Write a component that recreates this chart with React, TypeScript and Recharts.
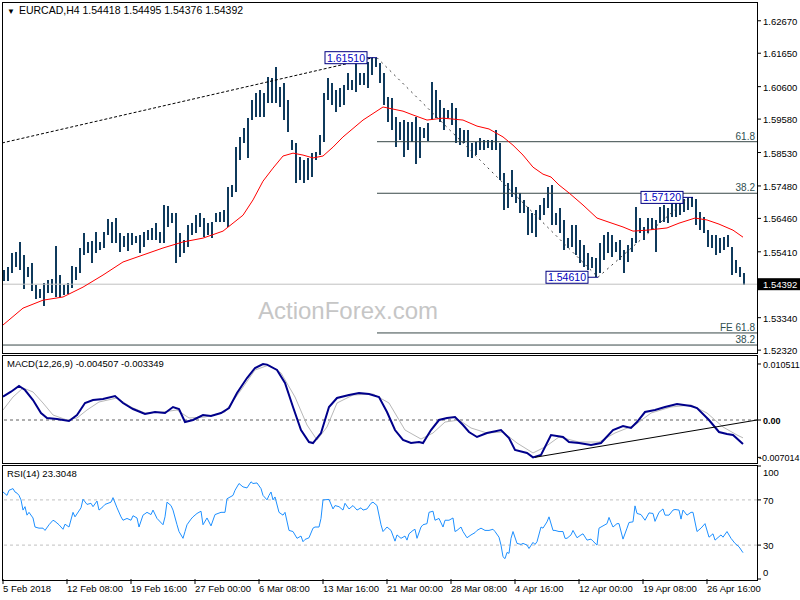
import React from 'react';
import { ComposedChart, Bar, Line, XAxis, YAxis, ReferenceLine, ReferenceDot } from 'recharts';

const FONT = '"Liberation Sans", Arial, sans-serif';

const symbolTitle = 'EURCAD,H4  1.54418 1.54495 1.54376 1.54392';
const macdTitle = 'MACD(12,26,9) -0.004507 -0.003349';
const rsiTitle = 'RSI(14) 23.3048';
const watermark = 'ActionForex.com';

// H4 bars, read two bars per slot (slot j sits at bar index 2j + 0.5)
const barHigh = [
  1.5484, 1.5493, 1.5537, 1.554, 1.5572, 1.5531, 1.5493, 1.5506, 1.5437, 1.5424,
  1.5443, 1.5452, 1.5455, 1.5559, 1.5468, 1.5437, 1.5443, 1.5496, 1.5493, 1.5553,
  1.56, 1.5572, 1.5575, 1.5603, 1.5572, 1.5603, 1.5644, 1.5634, 1.5647, 1.56,
  1.5591, 1.56, 1.56, 1.5591, 1.5594, 1.5603, 1.5609, 1.5616, 1.5631, 1.5603,
  1.5688, 1.5685, 1.5663, 1.5663, 1.56, 1.5578, 1.5625, 1.5631, 1.5656, 1.5663,
  1.5647, 1.5631, 1.5634, 1.5663, 1.5666, 1.5672, 1.5744, 1.5751, 1.587, 1.5902,
  1.593, 1.5961, 1.6018, 1.604, 1.6049, 1.604, 1.609, 1.6087, 1.6122, 1.6059,
  1.6071, 1.6018, 1.5892, 1.5883, 1.5839, 1.5829, 1.5836, 1.5851, 1.5854, 1.5908,
  1.604, 1.6087, 1.6071, 1.6049, 1.6056, 1.6065, 1.6103, 1.6081, 1.6144, 1.6103,
  1.6103, 1.6137, 1.6149, 1.6151, 1.6134, 1.6103, 1.6027, 1.6024, 1.5964, 1.5949,
  1.5955, 1.5949, 1.5949, 1.5964, 1.5933, 1.593, 1.5946, 1.6074, 1.6049, 1.6018,
  1.5993, 1.5986, 1.6008, 1.5993, 1.593, 1.5924, 1.5924, 1.5883, 1.5886, 1.5898,
  1.5892, 1.5892, 1.5892, 1.5924, 1.5883, 1.5788, 1.5757, 1.5798, 1.5744, 1.5726,
  1.5704, 1.5682, 1.5663, 1.5672, 1.5688, 1.571, 1.5744, 1.5751, 1.5663, 1.5678,
  1.5641, 1.5584, 1.5625, 1.5625, 1.5578, 1.5562, 1.5537, 1.5525, 1.5521, 1.5569,
  1.5594, 1.5603, 1.5594, 1.5572, 1.5578, 1.5547, 1.5562, 1.5584, 1.5682, 1.5647,
  1.5619, 1.5647, 1.5647, 1.5641, 1.5682, 1.5688, 1.5678, 1.5704, 1.5704, 1.5706,
  1.5708, 1.571, 1.5712, 1.5708, 1.5666, 1.565, 1.5609, 1.5594, 1.5594, 1.5584,
  1.5587, 1.5594, 1.5556, 1.5515, 1.5493, 1.5474,
];
const barLow = [
  1.5449, 1.5449, 1.5474, 1.5493, 1.5484, 1.5424, 1.5462, 1.5418, 1.5393, 1.5396,
  1.5371, 1.5411, 1.5411, 1.5399, 1.5399, 1.5405, 1.5408, 1.5427, 1.5452, 1.5474,
  1.5531, 1.5537, 1.5506, 1.5537, 1.5547, 1.5553, 1.5594, 1.5569, 1.5569, 1.554,
  1.5556, 1.5543, 1.5562, 1.5569, 1.5537, 1.5556, 1.5578, 1.5578, 1.5578, 1.5569,
  1.5569, 1.5619, 1.5631, 1.5506, 1.5525, 1.5537, 1.5556, 1.5594, 1.56, 1.5619,
  1.5587, 1.5594, 1.5584, 1.5634, 1.5634, 1.5634, 1.5619, 1.5713, 1.5729, 1.5829,
  1.5883, 1.5836, 1.5955, 1.5964, 1.5964, 1.5964, 1.6008, 1.6008, 1.6008, 1.5996,
  1.5955, 1.5917, 1.5861, 1.5757, 1.5766, 1.5757, 1.5766, 1.5776, 1.5829, 1.5845,
  1.5886, 1.6018, 1.6002, 1.598, 1.5996, 1.6002, 1.6049, 1.6049, 1.6043, 1.6065,
  1.6065, 1.6056, 1.6096, 1.6122, 1.6071, 1.6002, 1.5949, 1.5924, 1.587, 1.5892,
  1.5839, 1.5861, 1.5886, 1.5817, 1.5836, 1.5898, 1.5889, 1.5955, 1.5961, 1.5949,
  1.5924, 1.5961, 1.5939, 1.5883, 1.5876, 1.5883, 1.5839, 1.5836, 1.5845, 1.5861,
  1.5861, 1.5867, 1.5861, 1.5861, 1.5766, 1.5672, 1.5678, 1.5713, 1.5694, 1.5663,
  1.5663, 1.5594, 1.56, 1.5587, 1.5641, 1.5656, 1.5678, 1.5625, 1.5625, 1.56,
  1.5547, 1.5553, 1.5556, 1.5531, 1.5506, 1.5493, 1.5484, 1.549, 1.5461, 1.5474,
  1.5515, 1.5537, 1.5525, 1.554, 1.5515, 1.5474, 1.5509, 1.554, 1.5569, 1.56,
  1.5578, 1.56, 1.5609, 1.554, 1.5631, 1.5634, 1.5631, 1.565, 1.565, 1.5656,
  1.5666, 1.5672, 1.5682, 1.5625, 1.5609, 1.56, 1.5556, 1.5553, 1.5531, 1.5537,
  1.5547, 1.5556, 1.5468, 1.5474, 1.5462, 1.5438,
];

const lastClose = 1.54392;
const priceTicks = [1.5232, 1.5334, 1.54392, 1.5541, 1.5646, 1.5748, 1.5853, 1.5958, 1.606, 1.6165, 1.6267];

const timeTicks = [0, 32, 64, 96, 128, 160, 192, 224, 256, 288, 320, 352];
const timeLabels = [
  '5 Feb 2018', '12 Feb 08:00', '19 Feb 16:00', '27 Feb 00:00', '6 Mar 08:00', '13 Mar 16:00',
  '21 Mar 00:00', '28 Mar 08:00', '4 Apr 16:00', '12 Apr 00:00', '19 Apr 08:00', '26 Apr 16:00',
];

// red moving average: [bar index, price]
const maPoints: [number, number][] = [
  [0, 1.5311], [10, 1.5364], [20, 1.5389], [30, 1.5399], [40, 1.543], [50, 1.5468],
  [60, 1.5509], [70, 1.5531], [80, 1.5553], [90, 1.5572], [100, 1.5584], [110, 1.5606],
  [120, 1.5656], [125, 1.5704], [130, 1.5763], [135, 1.5804], [140, 1.5842], [145, 1.5851],
  [150, 1.5845], [155, 1.5836], [160, 1.5842], [165, 1.587], [170, 1.5902], [180, 1.5955],
  [190, 1.5996], [200, 1.5983], [205, 1.5971], [212, 1.5955], [220, 1.5961], [230, 1.5955],
  [237, 1.5936], [243, 1.5927], [250, 1.5902], [255, 1.5876], [260, 1.5845], [265, 1.5807],
  [270, 1.5785], [274, 1.5776], [278, 1.5751], [283, 1.5726], [290, 1.5688], [297, 1.5647],
  [303, 1.5634], [310, 1.5619], [315, 1.5606], [322, 1.5609], [332, 1.5616], [338, 1.5631],
  [346, 1.5647], [352, 1.5641], [358, 1.5628], [365, 1.5609], [370, 1.5587],
];

const macdPoints: [number, number][] = [
  [0, 0.00437], [4, 0.00531], [8, 0.00638], [11, 0.00563], [15, 0.00375], [19, 0.00131],
  [22, 0.00038], [27, 0.00019], [33, -0.00019], [37, 0.00094], [41, 0.00319], [45, 0.00375],
  [50, 0.00394], [56, 0.0045], [60, 0.00319], [65, 0.00206], [71, 0.00113], [76, 0.0015],
  [81, 0.00131], [85, 0.00244], [88, 0.00206], [91, -0.00038], [95, 0.0], [100, 0.00094],
  [104, 0.00075], [109, 0.00131], [113, 0.00225], [117, 0.00507], [122, 0.00788], [126, 0.00976],
  [130, 0.01051], [132, 0.0104], [137, 0.00939], [141, 0.00694], [145, 0.00244], [149, -0.00188],
  [153, -0.00413], [155, -0.00432], [159, -0.00244], [163, 0.00244], [167, 0.00413], [173, 0.00469],
  [178, 0.00507], [183, 0.00488], [188, 0.00432], [192, 0.0015], [196, -0.00188], [200, -0.00375],
  [204, -0.00432], [208, -0.00413], [210, -0.00432], [214, -0.00188], [218, 0.0], [222, 0.00038],
  [226, 0.00056], [230, -0.00094], [233, -0.00225], [237, -0.00319], [242, -0.00244], [249, -0.00188],
  [253, -0.00338], [256, -0.00563], [262, -0.00619], [265, -0.00701], [269, -0.00657], [274, -0.00282],
  [280, -0.00319], [283, -0.00413], [288, -0.00432], [294, -0.00469], [299, -0.00432], [305, -0.00188],
  [310, -0.00113], [314, -0.0015], [317, -0.00038], [321, 0.0015], [326, 0.00188], [331, 0.00244],
  [337, 0.003], [344, 0.00263], [347, 0.00225], [353, 0.0], [358, -0.00225], [362, -0.00263],
  [365, -0.00282], [370, -0.004507],
];

const signalPoints: [number, number][] = [
  [0, 0.00188], [5, 0.00432], [10, 0.00601], [15, 0.00526], [20, 0.00319], [25, 0.00094],
  [32, 0.0], [37, 0.00038], [42, 0.00188], [48, 0.00338], [57, 0.00413], [64, 0.00244],
  [71, 0.00131], [80, 0.0015], [87, 0.00188], [93, 0.00038], [101, 0.00056], [111, 0.0015],
  [119, 0.00563], [126, 0.00939], [133, 0.01032], [139, 0.00882], [146, 0.00432], [152, -0.00094],
  [157, -0.00375], [162, -0.00131], [167, 0.00319], [175, 0.00469], [185, 0.00488], [193, 0.00319],
  [201, -0.00188], [209, -0.00357], [215, -0.00244], [221, -0.00038], [228, 0.0], [234, -0.0015],
  [242, -0.00244], [250, -0.00225], [257, -0.00432], [265, -0.00619], [271, -0.00507], [278, -0.00319],
  [288, -0.00413], [298, -0.00413], [306, -0.00244], [316, -0.00094], [324, 0.00131], [334, 0.00244],
  [344, 0.00282], [352, 0.00131], [360, -0.00131], [367, -0.00282], [370, -0.003349],
];

const macdTrend: [number, number][] = [[266, -0.007], [377, 0.0]];

const rsiPoints: [number, number][] = [
  [0, 77], [2, 74], [3, 78.5], [5, 80], [6, 77], [7, 76], [8, 74], [9, 70], [10, 61], [11, 64],
  [12, 56.5], [13, 59], [15, 54], [16, 46], [18, 45], [20, 45], [21, 43], [23, 48], [25, 52], [26, 51],
  [28, 48], [30, 44], [31, 48.5], [33, 46], [35, 59], [36, 55], [39, 63], [40, 70.6], [42, 66], [44, 67],
  [45, 64], [47, 69], [48, 61], [50, 64], [51, 66], [54, 68], [55, 72], [57, 63], [59, 55], [60, 52],
  [62, 53.6], [64, 52], [65, 56], [67, 54], [68, 46], [70, 56.5], [72, 59], [74, 57], [75, 61], [77, 53.6],
  [80, 48], [81, 55], [82, 68], [84, 65], [85, 61], [87, 48], [88, 42], [90, 36], [91, 42], [92, 48],
  [94, 53], [95, 55], [97, 58], [99, 60], [100, 48], [102, 54], [104, 47], [106, 57], [109, 59], [111, 59],
  [112, 71], [115, 74], [116, 78.5], [118, 84.5], [120, 81.5], [122, 80.6], [124, 86], [125, 84.5], [127, 85], [129, 80],
  [130, 74], [132, 70], [133, 74], [134, 77], [135, 70], [136, 72.6], [138, 59], [140, 56.5], [141, 59], [143, 43],
  [145, 42], [147, 36], [149, 38], [150, 33], [151, 35], [153, 36.5], [155, 45], [156, 46], [158, 46], [159, 53.6],
  [160, 70], [163, 70.4], [165, 62], [166, 65], [168, 64], [170, 61], [171, 67], [173, 62], [175, 65], [177, 61],
  [179, 63], [180, 61], [182, 62], [184, 67], [185, 68], [187, 65], [189, 48], [190, 42], [192, 46], [194, 43],
  [196, 33.5], [197, 39], [199, 36], [201, 38], [202, 34.4], [203, 40], [205, 43], [206, 44], [207, 36], [209, 46],
  [210, 48], [212, 49], [213, 59], [215, 60], [216, 52], [218, 53.6], [220, 46], [221, 52], [223, 52], [225, 54],
  [226, 42], [227, 43], [229, 46], [230, 42], [232, 36.5], [234, 39], [236, 41], [237, 43], [239, 45], [241, 43],
  [243, 43], [245, 44], [246, 42], [248, 37], [249, 30], [250, 19.7], [251, 18], [252, 23.5], [253, 22.7], [254, 36],
  [255, 42], [257, 31.5], [259, 30.6], [260, 31.5], [262, 30], [263, 27], [265, 32.4], [266, 30.6], [267, 33], [269, 46],
  [270, 45], [272, 50.6], [273, 55], [275, 43], [276, 43], [278, 42], [280, 42], [281, 36], [282, 36], [284, 39],
  [285, 43], [287, 36.5], [289, 39], [290, 40], [292, 34.4], [294, 35.3], [295, 33.5], [297, 30], [298, 45], [300, 47],
  [302, 49], [303, 54.5], [304, 50], [305, 46], [307, 49], [308, 49], [310, 35.3], [312, 45], [313, 50], [315, 50.6],
  [316, 64.7], [317, 58], [319, 57], [321, 52], [323, 58.5], [325, 58], [326, 51], [328, 59], [330, 62], [331, 56.5],
  [333, 56.5], [335, 61], [336, 61.5], [338, 61], [339, 53], [340, 61], [342, 56.5], [344, 59], [345, 59], [347, 42],
  [349, 45], [351, 49], [353, 37], [355, 40], [356, 34.4], [359, 39], [360, 37], [362, 42], [364, 36], [366, 31.5],
  [368, 28.5], [370, 23.3],
];

// swing points of the fibonacci tools: [bar index, price, tag]
const swingTags: [number, number, string][] = [
  [187, 1.6151, '1.61510'],
  [297.5, 1.5461, '1.54610'],
  [345, 1.5712, '1.57120'],
];
const trendLines: [number, number, number, number][] = [
  [-0.5, 1.5883, 185, 1.6151],
];
const swingLines: [number, number, number, number][] = [
  [187, 1.6151, 297.5, 1.5461],
  [297.5, 1.5461, 343, 1.5712],
];
// fib levels: [start bar index, price, label]
const fibLevels: [number, number, string][] = [
  [187, 1.5887, '61.8'],
  [187, 1.5725, '38.2'],
  [187, 1.5286, 'FE 61.8'],
  [-0.5, 1.5248, '38.2'],
];

const X_DOMAIN: [number, number] = [-0.5, 377];

const barData = barHigh.map((h, j) => ({ i: 2 * j + 0.5, range: [barLow[j], h] }));
const maData = maPoints.map(([i, v]) => ({ i, v }));
const macdData = macdPoints.map(([i, v]) => ({ i, v }));
const signalData = signalPoints.map(([i, v]) => ({ i, v }));
const rsiData = rsiPoints.map(([i, v]) => ({ i, v }));

const BarShape = (p: any) => {
  const top = Math.min(p.y, p.y + p.height);
  const h = Math.max(Math.abs(p.height), 1);
  return <rect x={Math.round(p.x + p.width / 2) - 1} y={top} width={2} height={h} fill="#0f3a5c" shapeRendering="crispEdges" />;
};

const PriceTick = (props: any) => {
  const { x, y, payload } = props;
  const v = payload.value as number;
  const label = v.toFixed(5);
  if (v === lastClose) {
    return (
      <g>
        <rect x={x - 5} y={y - 6} width={42} height={12} fill="#000" />
        <text x={x} y={y + 4} fill="#fff" fontSize={9.5} fontFamily={FONT}>{label}</text>
      </g>
    );
  }
  return <text x={x} y={y + 4} fill="#000" fontSize={9.5} fontFamily={FONT}>{label}</text>;
};

const MacdTick = (props: any) => {
  const { x, y, payload } = props;
  const v = payload.value as number;
  const label = v === 0 ? '0.00' : v.toFixed(6);
  return (
    <text x={v < 0 ? x - 4 : x} y={y + 4} fill="#000" fontSize={9} fontFamily={FONT} fontWeight={v === 0 ? 'bold' : 'normal'}>
      {label}
    </text>
  );
};

const RsiTick = (props: any) => {
  const { x, y, payload } = props;
  const v = payload.value as number;
  const dy = v === 100 ? 6 : v === 0 ? -7 : 0;
  return <text x={x} y={y + 4 + dy} fill="#000" fontSize={9.5} fontFamily={FONT}>{v}</text>;
};

const TimeTick = (props: any) => {
  const { x, y, payload } = props;
  const label = timeLabels[timeTicks.indexOf(payload.value)];
  return <text x={x} y={y + 6} fill="#000" fontSize={9.5} fontFamily={FONT}>{label}</text>;
};

const frame = (top: number, height: number): React.CSSProperties => ({
  position: 'absolute', left: 2, top, width: 756, height, border: '1px solid #000',
  boxSizing: 'border-box', pointerEvents: 'none',
});

const textStyle = (left: number, top: number, size: number): React.CSSProperties => ({
  position: 'absolute', left, top, fontSize: size, lineHeight: '12px', color: '#000', whiteSpace: 'nowrap',
});

export default function App() {
  return (
    <div style={{ position: 'absolute', left: 0, top: 0, width: 800, height: 600, background: '#fff', overflow: 'hidden', fontFamily: FONT }}>
      <div style={{ position: 'absolute', left: 0, top: 0 }}>
        <ComposedChart width={800} height={355} data={barData} margin={{ top: 2, right: 0, bottom: 2, left: 2 }}>
          <XAxis type="number" dataKey="i" domain={X_DOMAIN} hide allowDataOverflow />
          <YAxis
            orientation="right" type="number" domain={[1.5223, 1.6326]} ticks={priceTicks} interval={0}
            width={43} axisLine={false} tickSize={4} tickMargin={2} tickLine={{ stroke: '#000' }}
            tick={PriceTick} allowDataOverflow
          />
          <ReferenceLine y={lastClose} stroke="#c0c0c0" />
          {fibLevels.map(([from, p], k) => (
            <ReferenceLine key={'f' + k} segment={[{ x: from, y: p }, { x: 377, y: p }]} stroke="#384848" ifOverflow="visible" />
          ))}
          {trendLines.map(([a, b, c, d], k) => (
            <ReferenceLine key={'t' + k} segment={[{ x: a, y: b }, { x: c, y: d }]} stroke="#000" strokeDasharray="3 2" ifOverflow="visible" />
          ))}
          {swingLines.map(([a, b, c, d], k) => (
            <ReferenceLine key={'s' + k} segment={[{ x: a, y: b }, { x: c, y: d }]} stroke="#404040" strokeDasharray="2 4" ifOverflow="visible" />
          ))}
          <Bar dataKey="range" barSize={2} fill="#0f3a5c" shape={BarShape} isAnimationActive={false} />
          <Line data={maData} dataKey="v" type="linear" stroke="#ff0000" strokeWidth={1} dot={false} isAnimationActive={false} />
          {fibLevels.map(([, p, label], k) => (
            <ReferenceDot
              key={'fl' + k} x={377} y={p} r={0} ifOverflow="visible"
              shape={(sp: any) => (
                <text x={sp.cx - 2} y={sp.cy - 2} textAnchor="end" fontSize={10} fontFamily={FONT} fill="#2f4f4f">{label}</text>
              )}
            />
          ))}
          {swingTags.map(([i, p, label], k) => (
            <ReferenceDot
              key={'sw' + k} x={i} y={p} r={0} ifOverflow="visible"
              shape={(sp: any) => (
                <g>
                  <line x1={sp.cx - 10} y1={sp.cy} x2={sp.cx} y2={sp.cy} stroke="#000080" />
                  <rect x={sp.cx - 52} y={sp.cy - 6} width={42} height={12} fill="#fff" stroke="#000080" />
                  <text x={sp.cx - 31} y={sp.cy + 4} textAnchor="middle" fontSize={10.5} fontFamily={FONT} fill="#0000c0">{label}</text>
                </g>
              )}
            />
          ))}
        </ComposedChart>
      </div>

      <div style={{ position: 'absolute', left: 0, top: 355 }}>
        <ComposedChart width={800} height={108} margin={{ top: 0, right: 0, bottom: 0, left: 2 }}>
          <XAxis type="number" dataKey="i" domain={X_DOMAIN} hide allowDataOverflow />
          <YAxis
            orientation="right" type="number" domain={[-0.00807, 0.0122]} ticks={[-0.007014, 0, 0.010511]} interval={0}
            width={43} axisLine={false} tickSize={4} tickMargin={2} tickLine={{ stroke: '#000' }}
            tick={MacdTick} allowDataOverflow
          />
          <ReferenceLine y={0} stroke="#606060" strokeDasharray="3 3" />
          <Line data={signalData} dataKey="v" type="linear" stroke="#b8b8b8" strokeWidth={1} dot={false} isAnimationActive={false} />
          <Line data={macdData} dataKey="v" type="linear" stroke="#00008b" strokeWidth={2} dot={false} isAnimationActive={false} />
          <ReferenceLine
            segment={[{ x: macdTrend[0][0], y: macdTrend[0][1] }, { x: macdTrend[1][0], y: macdTrend[1][1] }]}
            stroke="#000" ifOverflow="visible"
          />
        </ComposedChart>
      </div>

      <div style={{ position: 'absolute', left: 0, top: 465 }}>
        <ComposedChart width={800} height={135} margin={{ top: 1, right: 0, bottom: 0, left: 2 }}>
          <XAxis
            type="number" dataKey="i" domain={X_DOMAIN} ticks={timeTicks} interval={0} height={21}
            axisLine={false} tickSize={5} tickMargin={2} tickLine={{ stroke: '#000' }} tick={TimeTick} allowDataOverflow
          />
          <YAxis
            orientation="right" type="number" domain={[0, 100]} ticks={[0, 30, 70, 100]} interval={0}
            width={43} axisLine={false} tickSize={4} tickMargin={2} tickLine={{ stroke: '#000' }}
            tick={RsiTick} allowDataOverflow
          />
          <ReferenceLine y={70} stroke="#c0c0c0" strokeDasharray="3 3" />
          <ReferenceLine y={30} stroke="#c0c0c0" strokeDasharray="3 3" />
          <Line data={rsiData} dataKey="v" type="linear" stroke="#1e90ff" strokeWidth={1} dot={false} isAnimationActive={false} />
        </ComposedChart>
      </div>

      <div style={frame(2, 352)} />
      <div style={frame(355, 109)} />
      <div style={frame(465, 116)} />

      <div style={textStyle(7, 4, 10.5)}>
        <span style={{ fontSize: 8, marginRight: 4 }}>▼</span>{symbolTitle}
      </div>
      <div style={textStyle(7, 358, 9.5)}>{macdTitle}</div>
      <div style={textStyle(7, 468, 9.5)}>{rsiTitle}</div>
      <div style={{ position: 'absolute', left: 258, top: 299, fontSize: 24, lineHeight: '24px', color: '#c6c6c6', whiteSpace: 'nowrap' }}>
        {watermark}
      </div>
    </div>
  );
}
